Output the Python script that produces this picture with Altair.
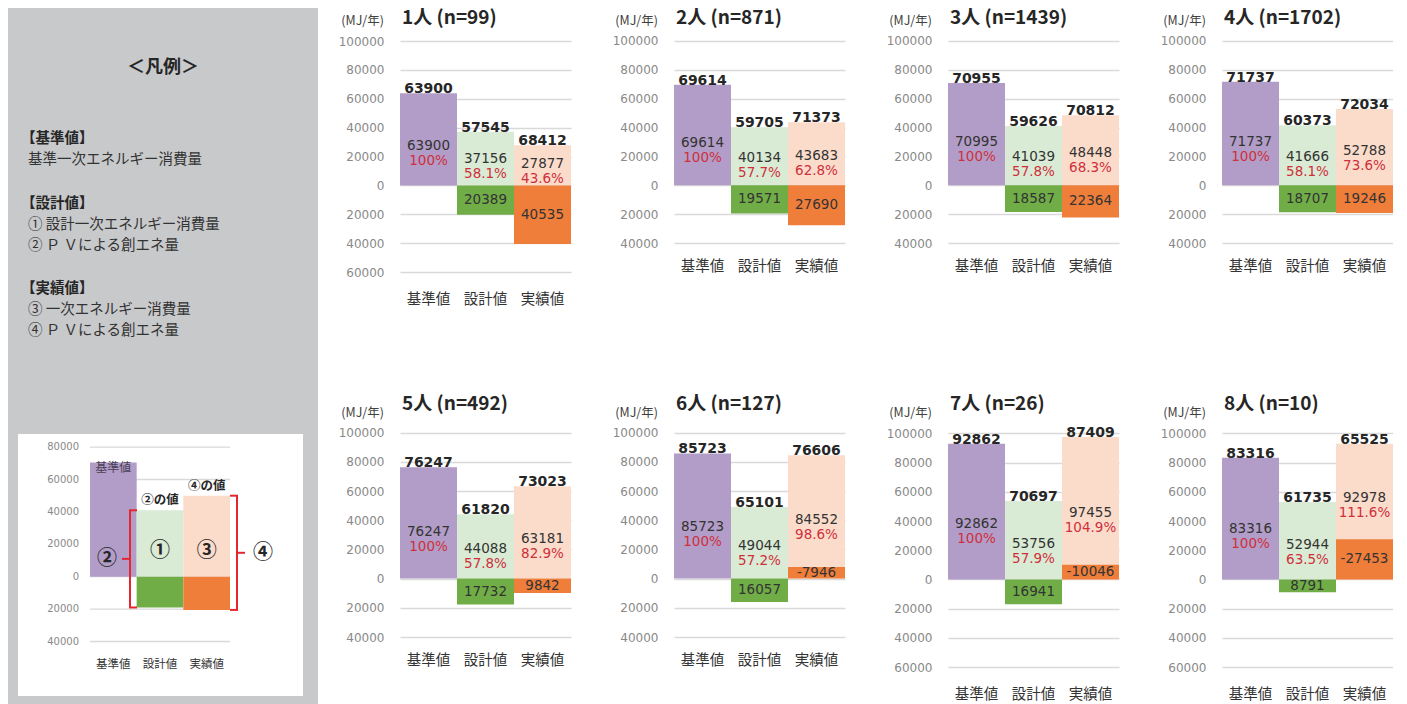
import altair as alt
import pandas as pd

# ---------------- data ----------------
groups = ["1人", "2人", "3人", "4人", "5人", "6人", "7人", "8人"]
sample_n = [99, 871, 1439, 1702, 492, 127, 26, 10]
base_top = [63900, 69614, 70955, 71737, 76247, 85723, 92862, 83316]
base_inner = [63900, 69614, 70995, 71737, 76247, 85723, 92862, 83316]
design_energy = [37156, 40134, 41039, 41666, 44088, 49044, 53756, 52944]
design_pct = [58.1, 57.7, 57.8, 58.1, 57.8, 57.2, 57.9, 63.5]
design_pv = [20389, 19571, 18587, 18707, 17732, 16057, 16941, 8791]
design_total = [57545, 59705, 59626, 60373, 61820, 65101, 70697, 61735]
actual_energy = [27877, 43683, 48448, 52788, 63181, 84552, 97455, 92978]
actual_pct = [43.6, 62.8, 68.3, 73.6, 82.9, 98.6, 104.9, 111.6]
actual_pv = [40535, 27690, 22364, 19246, 9842, -7946, -10046, -27453]
actual_total = [68412, 71373, 70812, 72034, 73023, 76606, 87409, 65525]
y_min = [-60000, -40000, -40000, -40000, -40000, -40000, -60000, -60000]
y_top = 100000
categories = ["基準値", "設計値", "実績値"]
unit_label = "(MJ/年)"

legend_heading = "＜凡例＞"
legend_sections = [
    ("【基準値】", ["基準一次エネルギー消費量"]),
    ("【設計値】", ["① 設計一次エネルギー消費量", "② Ｐ Ｖによる創エネ量"]),
    ("【実績値】", ["③ 一次エネルギー消費量", "④ Ｐ Ｖによる創エネ量"]),
]
mini_ticks = [80000, 60000, 40000, 20000, 0, -20000, -40000]
mini_base = 70500
mini_design = 41000
mini_design_pv = 19000
mini_actual = 50000
mini_actual_pv = 20500

# ---------------- styles ----------------
PURPLE = "#b29dc8"
LGREEN = "#d9ebd4"
DGREEN = "#70ad47"
PEACH = "#fbdccb"
ORANGE = "#f07e3b"
RED = "#cf2f3b"
TXT = "#333333"
BOLDTXT = "#262626"
GRID = "#d9d9d9"
TICK = "#898989"
GRAY_BG = "#c8c9cb"
BRACKET = "#e5262f"
NUM_FONT = "DejaVu Sans"
JP_FONT = "Noto Sans CJK JP"

PLOT_W = 171


def make_panel(i, k, ext, title_y, unit_y):
    """k: pixels per MJ; ext: pixels of title space above the 100000 line."""
    lo = y_min[i]
    h = round(ext + (y_top - lo) * k)
    hi_ext = lo + h / k
    pad = 20 if lo <= -60000 else 16.5
    xenc = alt.X(
        "cat:N", sort=categories,
        scale=alt.Scale(domain=categories, paddingInner=0, paddingOuter=0),
        axis=alt.Axis(title=None, labelAngle=0, ticks=False, domain=False, grid=False,
                      labelPadding=pad, labelFont=JP_FONT, labelFontSize=14.5, labelColor=TXT),
    )
    yscale = alt.Scale(domain=[lo, hi_ext], nice=False, zero=False)
    yaxis = alt.Axis(title=None, values=list(range(lo, y_top + 1, 20000)),
                     labelExpr="format(abs(datum.value), 'd')", grid=True, gridColor=GRID,
                     gridWidth=1.5, ticks=False, domain=False, labelPadding=16,
                     labelFont=NUM_FONT, labelFontSize=12, labelColor=TICK)
    yenc = alt.Y("y:Q", scale=yscale, axis=yaxis)

    bars_df = pd.DataFrame({
        "cat": ["基準値", "設計値", "設計値", "実績値", "実績値"],
        "y": [0, 0, 0, 0, 0],
        "y2": [base_top[i], design_energy[i], -design_pv[i], actual_energy[i], -actual_pv[i]],
        "color": [PURPLE, LGREEN, DGREEN, PEACH, ORANGE],
    })
    bars = alt.Chart(bars_df).mark_bar(strokeWidth=0).encode(
        x=xenc, y=yenc, y2="y2:Q", color=alt.Color("color:N", scale=None))

    top_df = pd.DataFrame({
        "cat": categories,
        "y": [base_top[i], design_energy[i], actual_energy[i]],
        "text": [str(base_top[i]), str(design_total[i]), str(actual_total[i])],
    })
    top = alt.Chart(top_df).mark_text(font=NUM_FONT, fontWeight="bold", fontSize=14,
                                      color=BOLDTXT, baseline="alphabetic").encode(
        x=xenc, y=yenc, text="text:N")

    seg_lo = max(0, -actual_pv[i])
    centers = [0.35 * base_top[i], 0.35 * design_energy[i],
               seg_lo + 0.35 * (actual_energy[i] - seg_lo)]
    val_df = pd.DataFrame({
        "cat": categories, "y": centers,
        "text": [str(base_inner[i]), str(design_energy[i]), str(actual_energy[i])],
    })
    pct_df = pd.DataFrame({
        "cat": categories, "y": centers,
        "text": ["100%", f"{design_pct[i]:.1f}%", f"{actual_pct[i]:.1f}%"],
    })
    vals = alt.Chart(val_df).mark_text(font=NUM_FONT, fontSize=13.5, color=TXT,
                                       baseline="middle", dy=-7.5).encode(
        x=xenc, y=yenc, text="text:N")
    pcts = alt.Chart(pct_df).mark_text(font=NUM_FONT, fontSize=13.5, color=RED,
                                       baseline="middle", dy=7.5).encode(
        x=xenc, y=yenc, text="text:N")

    neg_df = pd.DataFrame({
        "cat": ["設計値", "実績値"],
        "y": [-design_pv[i] / 2, -actual_pv[i] / 2],
        "text": [str(design_pv[i]), str(actual_pv[i])],
    })
    negs = alt.Chart(neg_df).mark_text(font=NUM_FONT, fontSize=13.5, color=TXT,
                                       baseline="middle").encode(
        x=xenc, y=yenc, text="text:N")

    title = alt.Chart(pd.DataFrame({"t": [f"{groups[i]} (n={sample_n[i]})"]})).mark_text(
        align="left", baseline="middle", font=JP_FONT, fontWeight="bold", fontSize=19,
        color=BOLDTXT).encode(x=alt.value(2), y=alt.value(title_y), text="t:N")
    unit = alt.Chart(pd.DataFrame({"t": [unit_label]})).mark_text(
        align="right", baseline="middle", font=JP_FONT, fontSize=12.5,
        color="#404040").encode(x=alt.value(-16), y=alt.value(unit_y), text="t:N")

    return alt.layer(bars, top, vals, pcts, negs, title, unit).properties(width=PLOT_W, height=h)


# ---------------- legend column ----------------
W_L, H_L = 310, 696
MINI_ZERO = 568.7
MINI_K = 0.00162
mini_dmax = MINI_ZERO / MINI_K
mini_dmin = -(H_L - MINI_ZERO) / MINI_K
mini_y = alt.Scale(domain=[mini_dmin, mini_dmax], nice=False, zero=False)
mini_x = alt.X("cat:N", sort=categories,
               scale=alt.Scale(domain=categories, paddingInner=0, paddingOuter=0, range=[82, 222]),
               axis=None)


def one(text):
    return pd.DataFrame({"t": [text]})


leg_layers = []
leg_layers.append(alt.Chart(one(legend_heading)).mark_text(
    align="center", baseline="middle", font=JP_FONT, fontWeight="bold", fontSize=18,
    color=BOLDTXT).encode(x=alt.value(155), y=alt.value(60), text="t:N"))
header_y = [131, 196, 281]
for (head, lines), hy in zip(legend_sections, header_y):
    leg_layers.append(alt.Chart(one(head)).mark_text(
        align="left", baseline="middle", font=JP_FONT, fontWeight="bold", fontSize=14.5,
        color=BOLDTXT).encode(x=alt.value(13), y=alt.value(hy), text="t:N"))
    for k, line in enumerate(lines):
        leg_layers.append(alt.Chart(one(line)).mark_text(
            align="left", baseline="middle", font=JP_FONT, fontSize=14.5,
            color=TXT).encode(x=alt.value(20), y=alt.value(hy + 21 * (k + 1)), text="t:N"))

# white box
leg_layers.append(alt.Chart(one("")).mark_rect(color="white").encode(
    x=alt.value(10), x2=alt.value(295), y=alt.value(426), y2=alt.value(688)))

tick_df = pd.DataFrame({"v": mini_ticks, "lab": [str(abs(v)) for v in mini_ticks]})
leg_layers.append(alt.Chart(tick_df).mark_rule(color=GRID, strokeWidth=1.3).encode(
    y=alt.Y("v:Q", scale=mini_y, axis=None), x=alt.value(82), x2=alt.value(222)))
leg_layers.append(alt.Chart(tick_df).mark_text(
    align="right", baseline="middle", font=NUM_FONT, fontSize=10, color=TICK).encode(
    y=alt.Y("v:Q", scale=mini_y, axis=None), x=alt.value(71), text="lab:N"))

mini_bars = pd.DataFrame({
    "cat": ["基準値", "設計値", "設計値", "実績値", "実績値"],
    "v": [0, 0, 0, 0, 0],
    "v2": [mini_base, mini_design, -mini_design_pv, mini_actual, -mini_actual_pv],
    "color": [PURPLE, LGREEN, DGREEN, PEACH, ORANGE],
})
leg_layers.append(alt.Chart(mini_bars).mark_bar(strokeWidth=0).encode(
    x=mini_x, y=alt.Y("v:Q", scale=mini_y, axis=None), y2="v2:Q",
    color=alt.Color("color:N", scale=None)))

leg_layers.append(alt.Chart(pd.DataFrame({"cat": ["基準値"], "v": [mini_base], "t": ["基準値"]}))
                  .mark_text(baseline="top", font=JP_FONT, fontSize=12, color="#4a3f55", dy=1)
                  .encode(x=mini_x, y=alt.Y("v:Q", scale=mini_y, axis=None), text="t:N"))
leg_layers.append(alt.Chart(pd.DataFrame({"cat": ["設計値", "実績値"],
                                          "v": [mini_design, mini_actual],
                                          "t": ["②の値", "④の値"]}))
                  .mark_text(baseline="bottom", font=JP_FONT, fontWeight="bold", fontSize=12.5,
                             color=BOLDTXT, dy=-3)
                  .encode(x=mini_x, y=alt.Y("v:Q", scale=mini_y, axis=None), text="t:N"))
circ_y = 0.38 * mini_design
leg_layers.append(alt.Chart(pd.DataFrame({"cat": ["設計値", "実績値"], "v": [circ_y, circ_y],
                                          "t": ["①", "③"]}))
                  .mark_text(baseline="middle", font=JP_FONT, fontWeight="bold", fontSize=20,
                             color=BOLDTXT)
                  .encode(x=mini_x, y=alt.Y("v:Q", scale=mini_y, axis=None), text="t:N"))

# brackets
lb_top, lb_bot = mini_design, -mini_design_pv
rb_top, rb_bot = mini_actual, -mini_actual_pv
lb_mid = (lb_top + lb_bot) / 2
rb_mid = (rb_top + rb_bot) / 2
ys = alt.Y("v:Q", scale=mini_y, axis=None)
leg_layers.append(alt.Chart(pd.DataFrame({"v": [lb_top], "v2": [lb_bot]})).mark_rule(
    color=BRACKET, strokeWidth=2).encode(y=ys, y2="v2:Q", x=alt.value(122)))
leg_layers.append(alt.Chart(pd.DataFrame({"v": [lb_top, lb_bot]})).mark_rule(
    color=BRACKET, strokeWidth=2).encode(y=ys, x=alt.value(121), x2=alt.value(129)))
leg_layers.append(alt.Chart(pd.DataFrame({"v": [lb_mid]})).mark_rule(
    color=BRACKET, strokeWidth=2).encode(y=ys, x=alt.value(114), x2=alt.value(122)))
leg_layers.append(alt.Chart(pd.DataFrame({"v": [rb_top], "v2": [rb_bot]})).mark_rule(
    color=BRACKET, strokeWidth=2).encode(y=ys, y2="v2:Q", x=alt.value(229)))
leg_layers.append(alt.Chart(pd.DataFrame({"v": [rb_top, rb_bot]})).mark_rule(
    color=BRACKET, strokeWidth=2).encode(y=ys, x=alt.value(222), x2=alt.value(230)))
leg_layers.append(alt.Chart(pd.DataFrame({"v": [rb_mid]})).mark_rule(
    color=BRACKET, strokeWidth=2).encode(y=ys, x=alt.value(229), x2=alt.value(237)))
leg_layers.append(alt.Chart(pd.DataFrame({"v": [lb_mid], "t": ["②"]})).mark_text(
    baseline="middle", align="center", font=JP_FONT, fontWeight="bold", fontSize=20,
    color=BOLDTXT).encode(y=ys, x=alt.value(99), text="t:N"))
leg_layers.append(alt.Chart(pd.DataFrame({"v": [rb_mid], "t": ["④"]})).mark_text(
    baseline="middle", align="center", font=JP_FONT, fontWeight="bold", fontSize=20,
    color=BOLDTXT).encode(y=ys, x=alt.value(255), text="t:N"))

leg_layers.append(alt.Chart(pd.DataFrame({"cat": categories})).mark_text(
    baseline="middle", font=JP_FONT, fontSize=11.5, color=TXT).encode(
    x=mini_x, y=alt.value(657), text="cat:N"))

legend = alt.layer(*leg_layers).properties(
    width=W_L, height=H_L, view=alt.ViewBackground(fill=GRAY_BG, strokeWidth=0))

# ---------------- assemble ----------------
row1 = alt.hconcat(*[make_panel(i, 0.001443, 33, 10, 13) for i in range(4)], spacing=41)
row2 = alt.hconcat(*[make_panel(i, 0.00146, 38, 8.5, 18) for i in range(4, 8)], spacing=41)
chart = alt.hconcat(legend, alt.vconcat(row1, row2, spacing=88), spacing=20).properties(
    padding=0).configure_view(strokeWidth=0)

chart.save("out.html", embed_options={"renderer": "svg", "actions": False})
